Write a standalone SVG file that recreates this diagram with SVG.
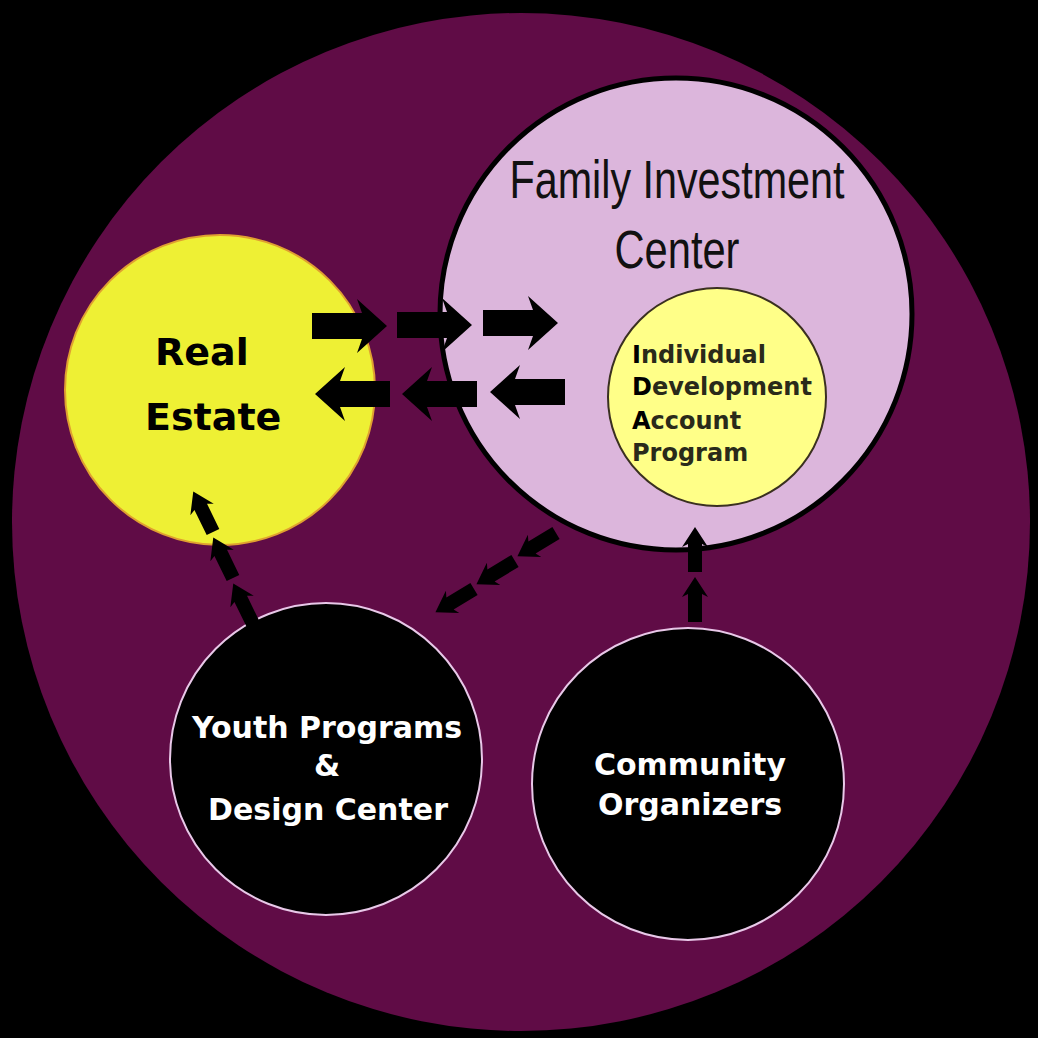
<svg xmlns="http://www.w3.org/2000/svg" xmlns:xlink="http://www.w3.org/1999/xlink" width="1038" height="1038" viewBox="0 0 1038 1038">
<style>
.lbl{font-family:"DejaVu Sans","Liberation Sans",sans-serif;font-weight:bold}
.wt{fill:#ffffff;font-size:30px;text-anchor:middle}
.ida{fill:#2a2a1a;font-size:24px}
.ida tspan.cap{fill:#000000}
.fic{font-family:"Liberation Sans",Arial,sans-serif;font-size:54px;fill:#111111;text-anchor:middle}
.arr{fill:#000000}
</style>
<defs>
<path id="big" d="M0,-13 H50 L45,-27 L75,0 L45,27 L50,13 H0 Z"/>
<path id="small" d="M0,-7 H28 L25,-13 L45,0 L25,13 L28,7 H0 Z"/>
</defs>
<rect x="0" y="0" width="1038" height="1038" fill="#000000"/>
<g id="outer">
<circle cx="521" cy="522" r="509" fill="#600c46"/>
</g>
<g id="real-estate">
<circle cx="220" cy="390" r="155" fill="#eef034" stroke="#e0a030" stroke-width="2"/>
<text class="lbl" x="155" y="365" font-size="38" fill="#000">Real</text>
<text class="lbl" x="145" y="430" font-size="38" fill="#000">Estate</text>
</g>
<g id="family-investment-center">
<circle cx="676" cy="314" r="236" fill="#dcb6dc" stroke="#000" stroke-width="5"/>
<text class="fic" x="677" y="198" textLength="335" lengthAdjust="spacingAndGlyphs">Family Investment</text>
<text class="fic" x="677" y="268" textLength="125" lengthAdjust="spacingAndGlyphs">Center</text>
</g>
<g id="ida-program">
<circle cx="717" cy="397" r="109" fill="#ffff88" stroke="#3a3020" stroke-width="2"/>
<text class="lbl ida" x="632" y="363"><tspan class="cap">I</tspan>ndividual</text>
<text class="lbl ida" x="632" y="395"><tspan class="cap">D</tspan>evelopment</text>
<text class="lbl ida" x="632" y="429"><tspan class="cap">A</tspan>ccount</text>
<text class="lbl ida" x="632" y="461">Program</text>
</g>
<g id="youth-programs">
<circle cx="326" cy="759" r="156" fill="#000" stroke="#e8c8e8" stroke-width="2"/>
<text class="lbl wt" x="327" y="738">Youth Programs</text>
<text class="lbl wt" x="327" y="776">&amp;</text>
<text class="lbl wt" x="328" y="820">Design Center</text>
</g>
<g id="community-organizers">
<circle cx="688" cy="784" r="156" fill="#000" stroke="#e8c8e8" stroke-width="2"/>
<text class="lbl wt" x="690" y="775">Community</text>
<text class="lbl wt" x="690" y="815">Organizers</text>
</g>
<g id="connectors" class="arr">
<use xlink:href="#big" transform="translate(312,326)"/>
<use xlink:href="#big" transform="translate(397,325)"/>
<use xlink:href="#big" transform="translate(483,323)"/>
<use xlink:href="#big" transform="translate(390,394) rotate(180)"/>
<use xlink:href="#big" transform="translate(477,394) rotate(180)"/>
<use xlink:href="#big" transform="translate(565,392) rotate(180)"/>
<use xlink:href="#small" transform="translate(213,532) rotate(-116)"/>
<use xlink:href="#small" transform="translate(233,578) rotate(-116)"/>
<use xlink:href="#small" transform="translate(253,624) rotate(-116)"/>
<use xlink:href="#small" transform="translate(556,533) rotate(149)"/>
<use xlink:href="#small" transform="translate(515,561) rotate(149)"/>
<use xlink:href="#small" transform="translate(474,589) rotate(149)"/>
<use xlink:href="#small" transform="translate(695,572) rotate(-90)"/>
<use xlink:href="#small" transform="translate(695,622) rotate(-90)"/>
</g>
</svg>
